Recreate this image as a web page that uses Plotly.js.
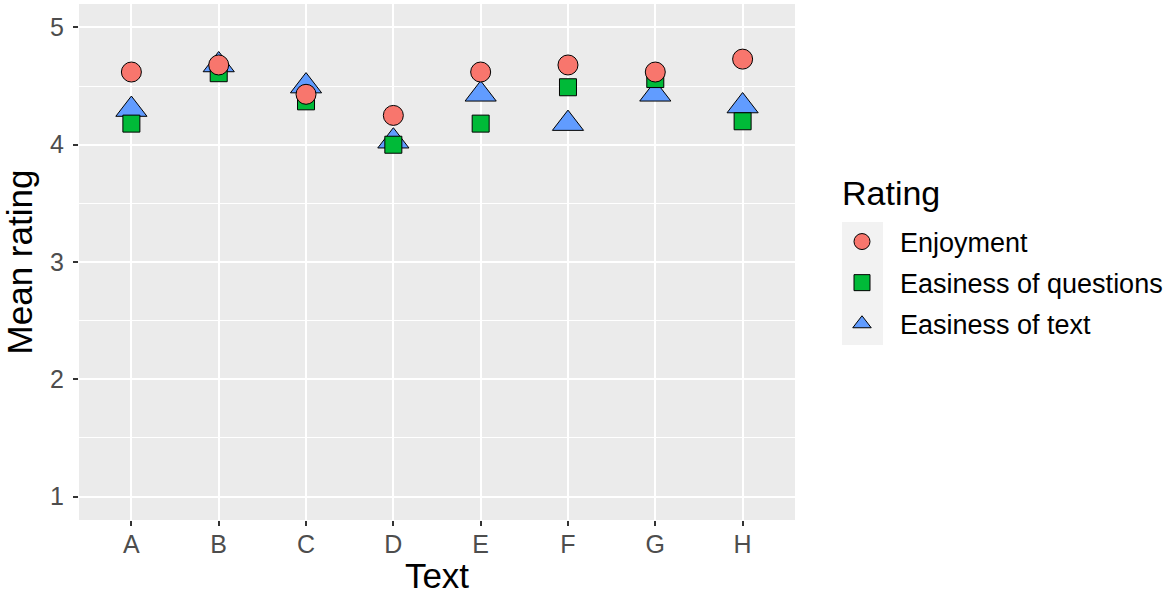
<!DOCTYPE html>
<html>
<head>
<meta charset="utf-8">
<script src="https://cdn.plot.ly/plotly-3.0.1.min.js"></script>
<style>
  body { margin: 0; background: white; }
  #chart { width: 1170px; height: 597px; }
</style>
</head>
<body>
<div id="chart"></div>
<script>
// texts on the x axis
var texts = ["A", "B", "C", "D", "E", "F", "G", "H"];

// mean ratings
var enjoyment = [4.62, 4.68, 4.43, 4.25, 4.62, 4.68, 4.62, 4.73];
var easeQuestions = [4.18, 4.61, 4.37, 4.00, 4.18, 4.49, 4.56, 4.20];
var easeText = [4.30, 4.68, 4.50, 4.03, 4.43, 4.18, 4.43, 4.33];

var yTicks = [1, 2, 3, 4, 5];

function series(name, values, symbol, colour, size, rank) {
  return {
    type: "scatter",
    mode: "markers",
    name: name,
    x: texts,
    y: values,
    legendgroup: name,
    legendrank: rank,
    marker: {
      symbol: symbol,
      color: colour,
      size: size,
      line: { color: "black", width: 1 }
    },
    hoverinfo: "x+y+name"
  };
}

// triangle first, circle last so the circles sit on top
var data = [
  series("Easiness of text", easeText, "triangle-up", "#619CFF", 27, 3),
  series("Easiness of questions", easeQuestions, "square", "#00BA38", 17, 2),
  series("Enjoyment", enjoyment, "circle", "#F8766D", 20, 1)
];

var layout = {
  width: 1170,
  height: 597,
  margin: { l: 79, r: 375, t: 4, b: 77, autoexpand: false },
  paper_bgcolor: "white",
  plot_bgcolor: "#EBEBEB",
  font: { family: "Liberation Sans, Arial, sans-serif", color: "#4D4D4D" },
  xaxis: {
    type: "category",
    range: [-0.6, 7.6],
    showgrid: true,
    gridcolor: "white",
    gridwidth: 1.6,
    zeroline: false,
    ticks: "outside",
    ticklen: 5,
    tickwidth: 1.5,
    tickcolor: "#333333",
    ticklabelstandoff: -3,
    tickfont: { size: 25, color: "#4D4D4D" },
    title: { text: "Text", font: { size: 35, color: "black" }, standoff: 6 },
    fixedrange: true
  },
  yaxis: {
    range: [0.8, 5.2],
    tickvals: yTicks,
    ticktext: yTicks.map(String),
    showgrid: true,
    gridcolor: "white",
    gridwidth: 1.6,
    minor: { dtick: 0.5, showgrid: true, gridcolor: "white", gridwidth: 0.8 },
    zeroline: false,
    ticks: "outside",
    ticklen: 5,
    tickwidth: 1.5,
    tickcolor: "#333333",
    ticklabelstandoff: 4,
    tickfont: { size: 25, color: "#4D4D4D" },
    title: { text: "Mean rating", font: { size: 35, color: "black" }, standoff: 10 },
    fixedrange: true
  },
  showlegend: true,
  legend: {
    x: (824 - 79) / 716,
    y: (520 - 283) / 516,
    xanchor: "left",
    yanchor: "middle",
    traceorder: "grouped",
    tracegroupgap: 3,
    itemwidth: 66,
    bgcolor: "rgba(0,0,0,0)",
    font: { size: 27, color: "black" }
  },
  annotations: [
    {
      text: "Rating",
      xref: "paper",
      yref: "paper",
      x: (840 - 79) / 716,
      y: (520 - 193) / 516,
      xanchor: "left",
      yanchor: "middle",
      showarrow: false,
      font: { size: 34, color: "black" }
    }
  ],
  shapes: [
    {
      type: "rect",
      xref: "paper",
      yref: "paper",
      x0: (842 - 79) / 716,
      x1: (883 - 79) / 716,
      y0: (520 - 345) / 516,
      y1: (520 - 222) / 516,
      fillcolor: "#F2F2F2",
      line: { width: 0 },
      layer: "below"
    }
  ]
};

Plotly.newPlot("chart", data, layout, { displayModeBar: false });
</script>
</body>
</html>
